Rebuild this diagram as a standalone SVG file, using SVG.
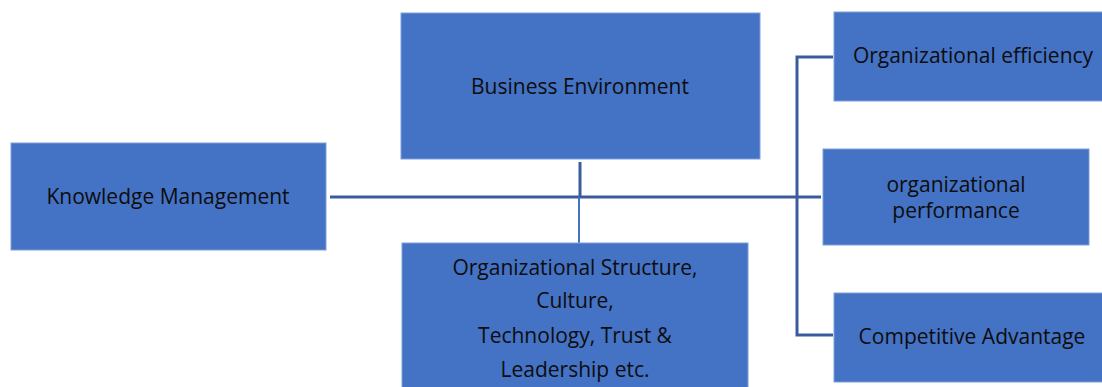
<svg xmlns="http://www.w3.org/2000/svg" width="1102" height="387" viewBox="0 0 1102 387">
  <style>
    .box { fill: #4472C4; stroke: #7F9FD8; stroke-width: 1; }
    .lbl { font-family: "Open Sans", "Noto Sans", sans-serif; font-size: 21px; fill: #0d0d0d; text-anchor: middle; }
    .main { stroke: #3A5C9C; stroke-width: 3; fill: none; }
    .thin { stroke: #4472C4; stroke-width: 2; fill: none; }
  </style>
  <rect width="1102" height="387" fill="#ffffff"/>

  <!-- connectors -->
  <g id="connectors">
    <line class="main" x1="330" y1="197" x2="821" y2="197"/>
    <line class="main" x1="580" y1="162" x2="580" y2="197"/>
    <line class="thin" x1="579" y1="197" x2="579" y2="243"/>
    <polyline class="main" points="833,57 797,57 797,335 833,335"/>
  </g>

  <g id="knowledge-management">
    <rect class="box" x="11" y="143" width="315" height="107"/>
    <text class="lbl" x="168" y="204">Knowledge Management</text>
  </g>

  <g id="business-environment">
    <rect class="box" x="401" y="13" width="359" height="146"/>
    <text class="lbl" x="580" y="94">Business Environment</text>
  </g>

  <g id="organizational-factors">
    <rect class="box" x="402" y="243" width="346" height="150"/>
    <text class="lbl" x="575" y="275">Organizational Structure,</text>
    <text class="lbl" x="575" y="308">Culture,</text>
    <text class="lbl" x="575" y="343">Technology, Trust &amp;</text>
    <text class="lbl" x="575" y="377">Leadership etc.</text>
  </g>

  <g id="organizational-efficiency">
    <rect class="box" x="834" y="12" width="275" height="89"/>
    <text class="lbl" x="973" y="63">Organizational efficiency</text>
  </g>

  <g id="organizational-performance">
    <rect class="box" x="823" y="149" width="266" height="96"/>
    <text class="lbl" x="956" y="192">organizational</text>
    <text class="lbl" x="956" y="218">performance</text>
  </g>

  <g id="competitive-advantage">
    <rect class="box" x="834" y="293" width="275" height="89"/>
    <text class="lbl" x="972" y="344">Competitive Advantage</text>
  </g>
</svg>
